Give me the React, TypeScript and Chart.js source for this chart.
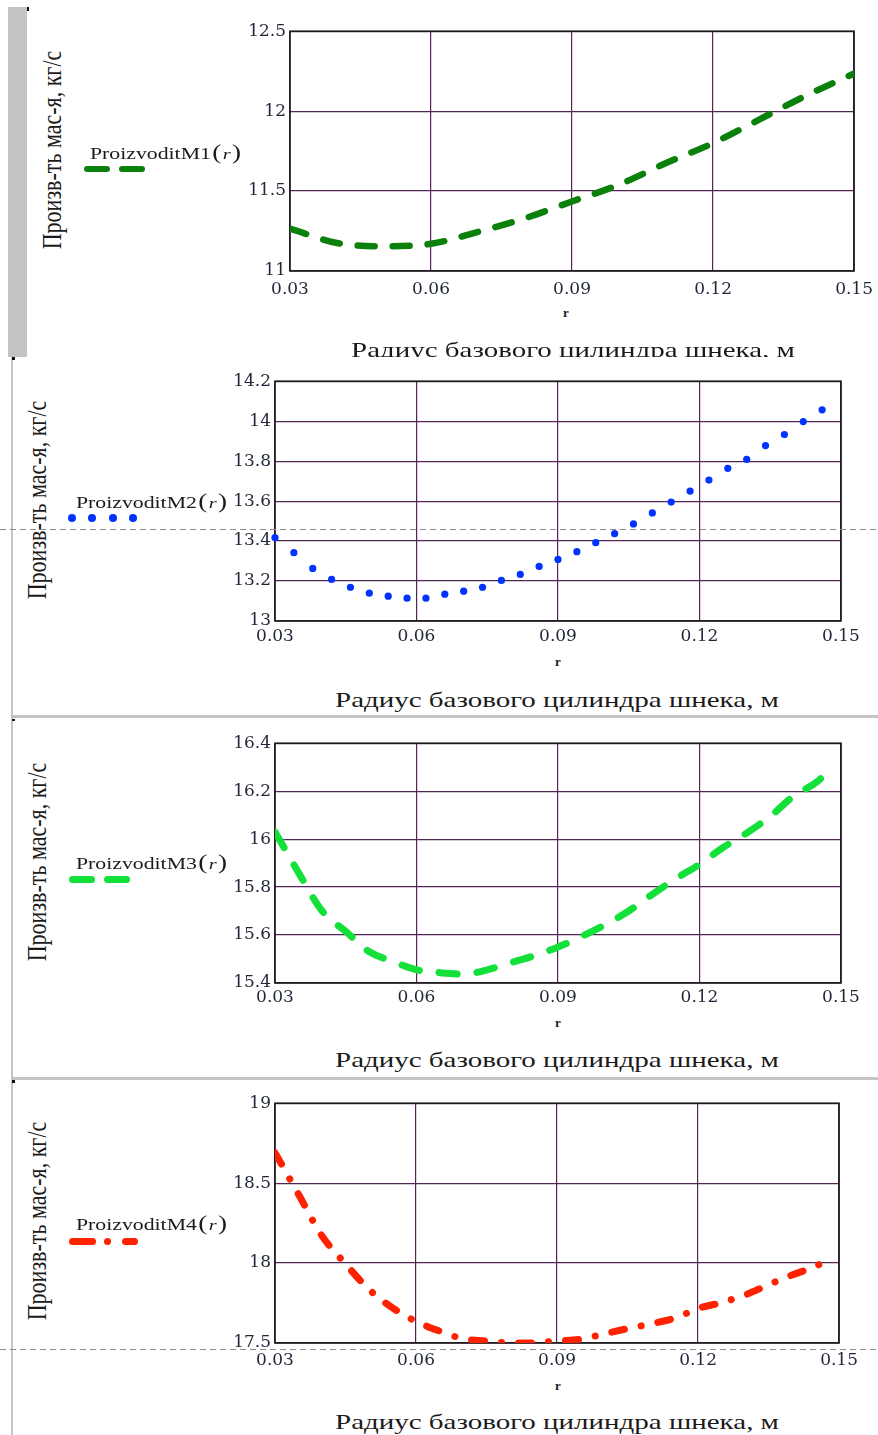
import React, { useEffect, useRef } from "react";
import { Chart, registerables } from "chart.js";
Chart.register(...registerables);

// ---------- data ----------
const xTicks = [0.03, 0.06, 0.09, 0.12, 0.15];
const yTicks1 = [11, 11.5, 12, 12.5];
const yTicks2 = [13, 13.2, 13.4, 13.6, 13.8, 14, 14.2];
const yTicks3 = [15.4, 15.6, 15.8, 16, 16.2, 16.4];
const yTicks4 = [17.5, 18, 18.5, 19];

const r1 = [0.03, 0.04, 0.05, 0.06, 0.07, 0.08, 0.09, 0.1, 0.11, 0.12, 0.13, 0.14, 0.15];
const m1 = [11.265, 11.175, 11.155, 11.17, 11.245, 11.33, 11.435, 11.54, 11.675, 11.8, 11.95, 12.1, 12.235];

const r2 = [0.03, 0.034, 0.038, 0.042, 0.046, 0.05, 0.054, 0.058, 0.062, 0.066, 0.07, 0.074, 0.078, 0.082, 0.086,
  0.09, 0.094, 0.098, 0.102, 0.106, 0.11, 0.114, 0.118, 0.122, 0.126, 0.13, 0.134, 0.138, 0.142, 0.146];
const m2 = [13.417, 13.342, 13.263, 13.208, 13.169, 13.139, 13.124, 13.114, 13.114, 13.134, 13.149, 13.169, 13.203, 13.233, 13.273,
  13.308, 13.347, 13.392, 13.437, 13.486, 13.541, 13.595, 13.65, 13.705, 13.764, 13.809, 13.878, 13.933, 13.998, 14.057];

const r3 = [0.03, 0.035, 0.04, 0.045, 0.05, 0.055, 0.06, 0.065, 0.07, 0.075, 0.08, 0.085, 0.09, 0.095, 0.1,
  0.105, 0.11, 0.115, 0.12, 0.125, 0.13, 0.135, 0.14, 0.145, 0.148];
const m3 = [16.03, 15.86, 15.7, 15.615, 15.53, 15.49, 15.455, 15.443, 15.437, 15.455, 15.485, 15.514, 15.55, 15.594, 15.643,
  15.7, 15.77, 15.835, 15.895, 15.965, 16.025, 16.095, 16.18, 16.24, 16.3];

const r4 = [0.03, 0.035, 0.04, 0.045, 0.05, 0.055, 0.06, 0.065, 0.07, 0.075, 0.08, 0.085, 0.09, 0.095, 0.1,
  0.105, 0.11, 0.115, 0.12, 0.125, 0.13, 0.135, 0.14, 0.145, 0.147];
const m4 = [18.69, 18.43, 18.17, 17.995, 17.835, 17.72, 17.635, 17.575, 17.527, 17.512, 17.5, 17.5, 17.513, 17.524, 17.557,
  17.59, 17.62, 17.655, 17.716, 17.753, 17.8, 17.865, 17.925, 17.98, 18.01];

const seriesNames = ["ProizvoditM1", "ProizvoditM2", "ProizvoditM3", "ProizvoditM4"];
const yAxisTitle = "Произв-ть мас-я, кг/с";
const xAxisTitle = "Радиус базового цилиндра шнека, м";
const xVarLabel = "r";

// ---------- styles ----------
const GRID = "#532554";
const TICK = "#1f2638";
const TEXT = "#1a1a1a";
const C1 = "#0b800b";
const C2 = "#0033ff";
const C3 = "#14e03a";
const C4 = "#ff2200";

const boxPlugin = {
  id: "box",
  beforeDatasetsDraw(chart: any) {
    const { ctx, chartArea: a } = chart;
    ctx.save();
    ctx.strokeStyle = "#1b1b1b";
    ctx.lineWidth = 1.6;
    ctx.strokeRect(a.left, a.top, a.right - a.left, a.bottom - a.top);
    ctx.restore();
  },
};

type PanelCfg = {
  L: number; T: number; R: number; B: number;
  yTicks: number[];
  xs: number[]; ys: number[];
  kind: "line" | "dots";
  color: string; width?: number; dash?: number[];
  xPad: number;
};

function Panel({ cfg }: { cfg: PanelCfg }) {
  const ref = useRef<HTMLCanvasElement>(null);
  const padL = 70, padT = 12, padR = 24, xH = 32;
  const left = cfg.L - padL;
  const top = cfg.T - padT;
  const w = cfg.R + padR - left;
  const h = cfg.B + xH - top;
  useEffect(() => {
    const ds: any =
      cfg.kind === "line"
        ? {
            data: cfg.xs.map((x, i) => ({ x, y: cfg.ys[i] })),
            borderColor: cfg.color,
            borderWidth: cfg.width,
            borderDash: cfg.dash,
            borderCapStyle: "round",
            borderJoinStyle: "round",
            cubicInterpolationMode: "monotone",
            pointRadius: 0,
            fill: false,
          }
        : {
            data: cfg.xs.map((x, i) => ({ x, y: cfg.ys[i] })),
            showLine: false,
            pointRadius: 3.6,
            pointBorderWidth: 0,
            pointBackgroundColor: cfg.color,
            pointBorderColor: cfg.color,
            clip: 4,
          };
    const yMin = cfg.yTicks[0];
    const yMax = cfg.yTicks[cfg.yTicks.length - 1];
    const font = { family: '"DejaVu Serif"', size: 17 };
    const chart = new Chart(ref.current as HTMLCanvasElement, {
      type: "line",
      data: { datasets: [ds] },
      plugins: [boxPlugin],
      options: {
        animation: false,
        responsive: false,
        events: [],
        layout: { padding: { left: 0, top: padT, right: padR, bottom: 0 } },
        plugins: { legend: { display: false }, tooltip: { enabled: false } },
        scales: {
          x: {
            type: "linear",
            min: xTicks[0],
            max: xTicks[xTicks.length - 1],
            afterBuildTicks: (s: any) => { s.ticks = xTicks.map((v) => ({ value: v })); },
            afterFit: (s: any) => { s.height = xH; },
            grid: { color: GRID, lineWidth: 1.2, drawTicks: false },
            border: { display: false },
            ticks: {
              padding: cfg.xPad, color: TICK, font, maxRotation: 0, autoSkip: false,
              callback: (v: any) => Number(v).toFixed(2),
            },
          },
          y: {
            type: "linear",
            min: yMin,
            max: yMax,
            afterBuildTicks: (s: any) => { s.ticks = cfg.yTicks.map((v) => ({ value: v })); },
            afterFit: (s: any) => { s.width = padL; },
            grid: { color: GRID, lineWidth: 1.2, drawTicks: false },
            border: { display: false },
            ticks: {
              padding: 4, color: TICK, font, autoSkip: false,
              callback: (v: any) => String(+Number(v).toFixed(2)),
            },
          },
        },
      } as any,
    });
    return () => chart.destroy();
  }, []);
  return (
    <canvas ref={ref} width={w} height={h}
      style={{ position: "absolute", left, top, width: w, height: h }} />
  );
}

function YTitle({ cx, cy }: { cx: number; cy: number }) {
  return (
    <div style={{
      position: "absolute", left: cx - 130, top: cy - 13, width: 260, height: 26, lineHeight: "26px",
      textAlign: "center", fontFamily: '"Liberation Serif"', fontSize: 22, color: TEXT, whiteSpace: "nowrap",
      transform: "rotate(-90deg) scaleY(1.25)",
    }}>{yAxisTitle}</div>
  );
}

function XTitle({ cx, cy }: { cx: number; cy: number }) {
  return (
    <div style={{
      position: "absolute", left: cx - 400, top: cy - 12, width: 800, height: 24, lineHeight: "24px",
      textAlign: "center", fontFamily: '"Liberation Serif"', fontSize: 21, color: TEXT, whiteSpace: "nowrap",
      transform: "scaleX(1.38)",
    }}>{xAxisTitle}</div>
  );
}

function RLabel({ cx, cy }: { cx: number; cy: number }) {
  return (
    <div style={{
      position: "absolute", left: cx - 10, top: cy - 8, width: 20, height: 16, lineHeight: "16px",
      textAlign: "center", fontFamily: '"Liberation Serif"', fontSize: 13, fontWeight: "bold", color: TEXT,
    }}>{xVarLabel}</div>
  );
}

function LegendText({ x, cy, name }: { x: number; cy: number; name: string }) {
  return (
    <div style={{
      position: "absolute", left: x, top: cy - 11, height: 22, lineHeight: "22px",
      fontFamily: '"Liberation Serif"', fontSize: 16, color: TEXT, whiteSpace: "nowrap",
      transform: "scaleX(1.36)", transformOrigin: "left center",
    }}>
      {name}
      <span style={{ fontSize: 20, marginLeft: 1 }}>(</span>
      <span style={{ fontStyle: "italic", fontSize: 15, margin: "0 1px" }}>r</span>
      <span style={{ fontSize: 20 }}>)</span>
    </div>
  );
}

function Dash({ x1, x2, cy, h, color }: { x1: number; x2: number; cy: number; h: number; color: string }) {
  return <div style={{ position: "absolute", left: x1, top: cy - h / 2, width: x2 - x1, height: h, background: color, borderRadius: h / 2 }} />;
}

function Rect({ l, t, w, h, c }: { l: number; t: number; w: number; h: number; c: string }) {
  return <div style={{ position: "absolute", left: l, top: t, width: w, height: h, background: c }} />;
}

function DashedRule({ y }: { y: number }) {
  return <div style={{
    position: "absolute", left: 0, top: y, width: 878, height: 1,
    background: "repeating-linear-gradient(90deg, #8a8a8a 0 6px, transparent 6px 10px)",
  }} />;
}

const panels: PanelCfg[] = [
  { L: 290, T: 29, R: 857, B: 271, yTicks: yTicks1, xs: r1, ys: m1, kind: "line", color: C1, width: 6.5, dash: [17, 18], xPad: 8 },
  { L: 275, T: 379, R: 841, B: 621, yTicks: yTicks2, xs: r2, ys: m2, kind: "dots", color: C2, xPad: 5 },
  { L: 275, T: 741, R: 841, B: 983, yTicks: yTicks3, xs: r3, ys: m3, kind: "line", color: C3, width: 7, dash: [18, 20], xPad: 4 },
  { L: 275, T: 1101, R: 841, B: 1343, yTicks: yTicks4, xs: r4, ys: m4, kind: "line", color: C4, width: 7, dash: [13, 17, 0.1, 17], xPad: 7 },
];

export default function App() {
  const GRAY = "#c4c4c4";
  return (
    <div style={{ position: "absolute", left: 0, top: 0, width: 878, height: 1435, overflow: "hidden", background: "#fff" }}>
      {/* frame pieces */}
      <Rect l={8} t={7} w={19} h={350} c={GRAY} />
      <Rect l={27} t={7} w={2} h={4} c="#111" />
      <Rect l={11} t={357} w={2} h={361} c={GRAY} />
      <Rect l={12} t={357} w={3} h={3} c="#111" />
      <Rect l={11} t={715} w={867} h={3} c={GRAY} />
      <Rect l={11} t={718} w={2} h={360} c={GRAY} />
      <Rect l={12} t={719} w={3} h={2} c="#111" />
      <Rect l={11} t={1077} w={867} h={3} c={GRAY} />
      <Rect l={11} t={1080} w={2} h={355} c={GRAY} />
      <Rect l={12} t={1080} w={3} h={3} c="#111" />

      {panels.map((p, i) => <Panel key={i} cfg={p} />)}

      {/* panel 1 */}
      <YTitle cx={52} cy={150} />
      <LegendText x={90} cy={152} name={seriesNames[0]} />
      <Dash x1={84} x2={110} cy={169} h={6} color={C1} />
      <Dash x1={119} x2={145} cy={169} h={6} color={C1} />
      <RLabel cx={566} cy={313} />
      <div style={{ position: "absolute", left: 0, top: 300, width: 878, height: 57, overflow: "hidden" }}>
        <div style={{ position: "absolute", left: 0, top: -300, width: 878, height: 400 }}>
          <XTitle cx={573} cy={350} />
        </div>
      </div>

      {/* panel 2 */}
      <YTitle cx={37} cy={500} />
      <LegendText x={76} cy={501} name={seriesNames[1]} />
      {[72, 92, 113, 133].map((x) => (
        <div key={x} style={{ position: "absolute", left: x - 3.6, top: 518 - 3.6, width: 7.2, height: 7.2, borderRadius: 4, background: C2 }} />
      ))}
      <RLabel cx={558} cy={662} />
      <XTitle cx={557} cy={700} />

      {/* panel 3 */}
      <YTitle cx={37} cy={862} />
      <LegendText x={76} cy={862} name={seriesNames[2]} />
      <Dash x1={69} x2={95} cy={879} h={7} color={C3} />
      <Dash x1={104} x2={130} cy={879} h={7} color={C3} />
      <RLabel cx={558} cy={1023} />
      <XTitle cx={557} cy={1060} />

      {/* panel 4 */}
      <YTitle cx={37} cy={1221} />
      <LegendText x={76} cy={1223} name={seriesNames[3]} />
      <Dash x1={69} x2={96} cy={1241} h={7} color={C4} />
      <Dash x1={104} x2={111} cy={1241} h={7} color={C4} />
      <Dash x1={122} x2={138} cy={1241} h={7} color={C4} />
      <RLabel cx={558} cy={1386} />
      <XTitle cx={557} cy={1422} />

      <DashedRule y={529} />
      <DashedRule y={1349} />
    </div>
  );
}
